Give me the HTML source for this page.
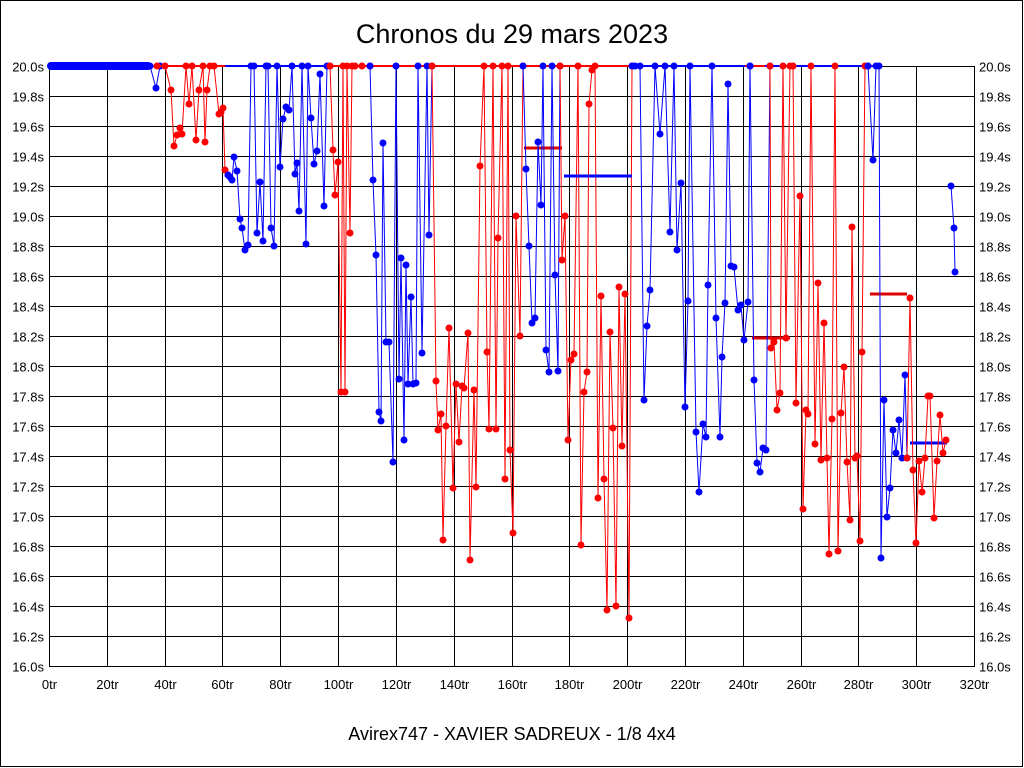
<!DOCTYPE html>
<html><head><meta charset="utf-8"><style>
html,body{margin:0;padding:0;background:#fff}
svg{display:block}
text{font-family:"Liberation Sans",sans-serif}
</style></head><body>
<svg id="s" width="1024" height="768" xmlns="http://www.w3.org/2000/svg">
<rect x="0.5" y="0.5" width="1022" height="766" fill="#fff" stroke="#000"/>
<text x="512" y="43" font-size="27" text-anchor="middle">Chronos du 29 mars 2023</text>
<text x="512" y="740" font-size="18" text-anchor="middle">Avirex747 - XAVIER SADREUX - 1/8 4x4</text>
<g id="grid" stroke="#000" stroke-width="1"></g>
<g id="labels" font-size="13"></g>
<g id="data"></g>
</svg>
<script>
var NS="http://www.w3.org/2000/svg";
function el(p,t,a,txt){var e=document.createElementNS(NS,t);for(var k in a)e.setAttribute(k,a[k]);if(txt!=null)e.textContent=txt;p.appendChild(e);return e;}
var g=document.getElementById('grid'),L=document.getElementById('labels'),D=document.getElementById('data');
var x0=49,x1=974,y0=66,y1=666;
el(g,'rect',{x:x0+.5,y:y0+.5,width:x1-x0,height:y1-y0,fill:'none'});
for(var i=0;i<=16;i++){var x=Math.round(x0+i*(x1-x0)/16)+.5;el(g,'line',{x1:x,y1:y0,x2:x,y2:y1});
el(L,'text',{x:x,y:689,'text-anchor':'middle'},(i*20)+'tr');}
for(var j=0;j<=20;j++){var y=y0+j*30+.5;el(g,'line',{x1:x0,y1:y,x2:x1,y2:y});
var v=(20-j*0.2).toFixed(1)+'s';el(L,'text',{x:44,y:y+5,'text-anchor':'end'},v);el(L,'text',{x:979,y:y+5},v);}
function series(pts,col){
 var s=pts.map(function(p){return p[0]+','+p[1]}).join(' ');
 el(D,'polyline',{points:s,fill:'none',stroke:col,'stroke-width':1});
 pts.forEach(function(p){el(D,'circle',{cx:p[0],cy:p[1],r:3.5,fill:col});});
}
function bar(a,b,y,col){el(D,'line',{x1:a,y1:y,x2:b,y2:y,stroke:col,'stroke-width':3});}
el(D,'rect',{x:47,y:62,width:105,height:8,fill:'#00f',rx:4});
series([[150,66],[156,88],[160,66]],'#00f');
el(D,'line',{x1:157,y1:66,x2:880,y2:66,stroke:'#f00','stroke-width':2});
el(D,'line',{x1:225,y1:66,x2:330,y2:66,stroke:'#00f','stroke-width':2});
el(D,'line',{x1:635,y1:66,x2:745,y2:66,stroke:'#00f','stroke-width':2});
el(D,'line',{x1:765,y1:66,x2:880,y2:66,stroke:'#00f','stroke-width':2});
series([[157,66],[165,66],[171,90],[174,146],[177,135],[180,128],[182,134],[186,66],[189,104],[192,66],[196,140],[199,90],[203,66],[205,142],[207,90],[210,66],[214,66],[219,114],[221,112],[223,108],[225,170],[228,175]],'#f00');
series([[228,175],[230,177],[232,180],[234,157],[237,171],[240,219],[242,228],[245,250],[248,245],[251,66],[254,66],[257,233],[260,182],[263,241],[266,66],[268,66],[271,228],[274,246],[277,66],[280,167],[283,119],[286,107],[289,110],[292,66],[295,174],[297,163],[299,211],[302,66],[306,244],[308,66],[311,118],[314,164],[317,151],[320,74],[324,206],[327,66],[330,66]],'#00f');
series([[330,66],[333,150],[335,195],[338,162],[341,392],[343,66],[345,392],[347,66],[350,233],[352,66],[355,66],[362,66],[370,66]],'#f00');
series([[370,66],[373,180],[376,255],[379,412],[381,421],[383,143],[386,342],[389,342],[393,462],[396,66],[399,379],[401,258],[404,440],[406,265],[408,384],[411,297],[413,384],[416,383],[418,66],[422,353],[427,66],[429,235],[432,66]],'#00f');
series([[432,66],[436,381],[438,430],[441,414],[443,540],[446,426],[449,328],[453,488],[456,384],[459,442],[462,386],[464,388],[468,333],[470,560],[474,390],[476,487],[480,166],[484,66],[487,352],[489,429],[493,66],[496,429],[498,238],[502,66],[505,479],[508,66],[510,450],[513,533],[516,216],[520,336],[523,66]],'#f00');
bar(524,562,148,'#d00');
series([[523,66],[526,169],[529,246],[532,323],[535,318],[538,142],[541,205],[543,66],[546,350],[549,372],[552,66],[555,275],[558,371],[560,66]],'#00f');
series([[560,66],[562,260],[565,216],[568,440],[571,360],[574,354],[578,66],[581,545],[584,392],[587,372],[589,104],[592,70],[595,66],[598,498],[601,296],[604,479],[607,610],[610,332],[613,428],[616,606],[619,287],[622,446],[625,294],[629,618],[632,66]],'#f00');
bar(564,632,176,'#00f');
series([[632,66],[635,66],[640,66],[644,400],[647,326],[650,290],[655,66],[660,134],[665,66],[670,232],[674,66],[677,250],[681,183],[685,407],[688,301],[690,66],[696,432],[699,492],[703,424],[706,437],[708,285],[712,66],[716,318],[720,437],[722,357],[725,303],[728,84],[731,266],[734,267],[738,310],[741,305],[744,340],[748,302],[750,66]],'#00f');
bar(752,790,338,'#d00');
series([[750,66],[754,380],[757,463],[760,472],[763,448],[766,450],[770,66]],'#00f');
series([[770,66],[771,348],[774,342],[777,410],[780,393],[783,66],[786,338],[790,66],[793,66],[796,403],[800,196],[803,509],[806,410],[808,414],[811,66],[815,444],[818,283],[821,460],[824,323],[827,458],[829,554],[832,419],[835,66],[838,551],[841,413],[844,367],[847,462],[850,520],[852,227],[855,458],[857,456],[860,541],[862,352],[865,66],[868,66]],'#f00');
bar(870,907,294,'#d00');
series([[868,66],[873,160],[876,66],[879,66],[881,558],[884,400],[887,517],[890,488],[893,430],[896,453],[899,420],[902,458],[905,375],[907,458]],'#00f');
bar(910,947,443,'#00f');
series([[907,458],[910,298],[913,470],[916,543],[919,461],[922,492],[925,458],[928,396],[930,396],[934,518],[937,461],[940,415],[943,453],[946,440]],'#f00');
series([[951,186],[954,228],[955,272]],'#00f');
</script>
</body></html>
